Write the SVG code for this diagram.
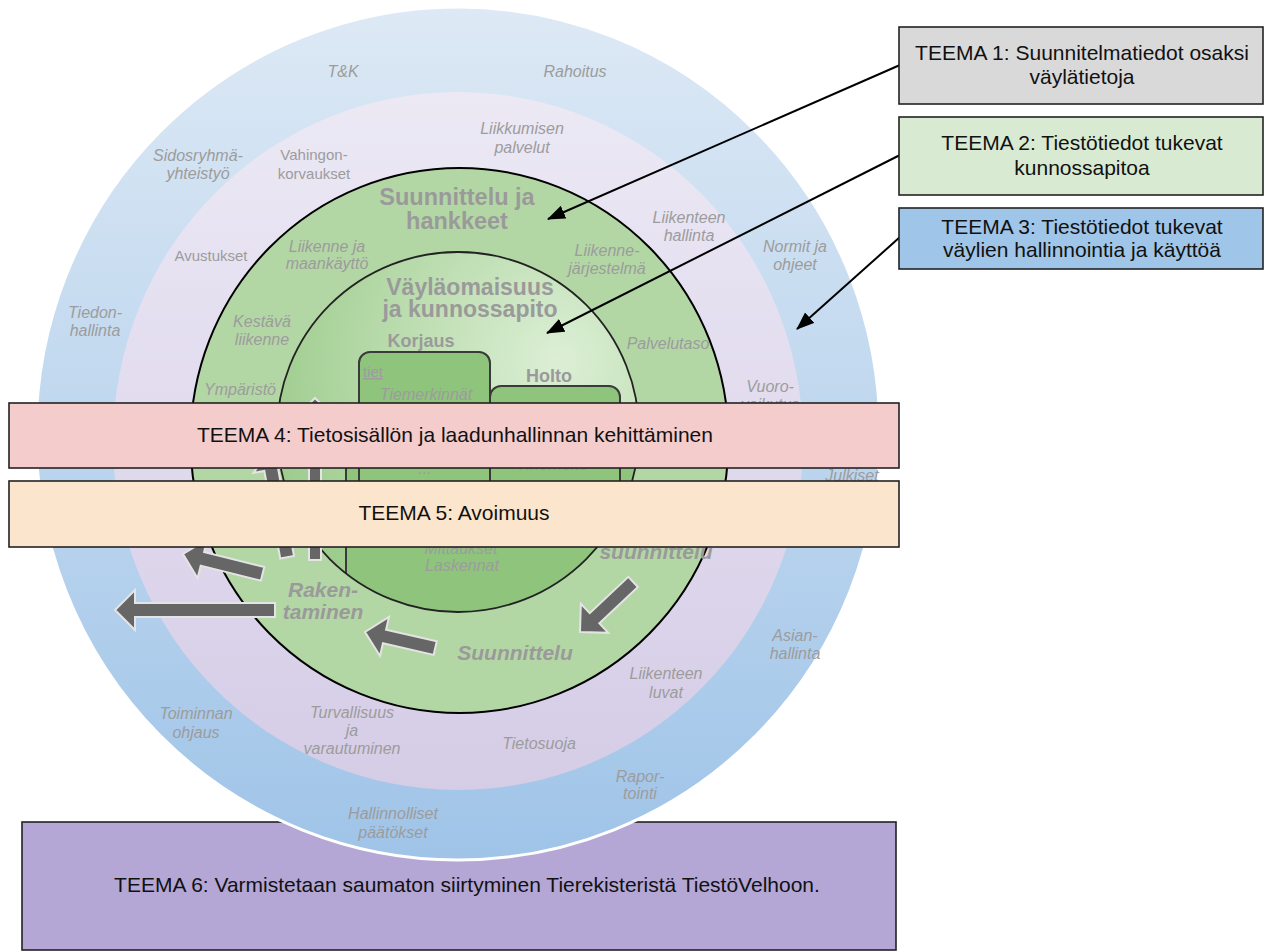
<svg xmlns="http://www.w3.org/2000/svg" width="1266" height="952" viewBox="0 0 1266 952">
  <defs>
    <linearGradient id="gBlue" x1="0" y1="0" x2="0" y2="1">
      <stop offset="0" stop-color="#dde9f5"/>
      <stop offset="1" stop-color="#9fc4e8"/>
    </linearGradient>
    <linearGradient id="gLav" x1="0" y1="0" x2="0" y2="1">
      <stop offset="0" stop-color="#ece9f5"/>
      <stop offset="1" stop-color="#d5cce6"/>
    </linearGradient>
    <radialGradient id="gInner" cx="0.78" cy="0.3" r="0.85">
      <stop offset="0" stop-color="#dcefd5"/>
      <stop offset="1" stop-color="#9ccb8b"/>
    </radialGradient>
    <clipPath id="innerClip">
      <ellipse cx="458" cy="432" rx="181" ry="180"/>
    </clipPath>
    <marker id="ah" markerUnits="userSpaceOnUse" markerWidth="18" markerHeight="14" refX="17" refY="7" orient="auto">
      <path d="M0,0 L18,7 L0,14 Z" fill="#000"/>
    </marker>
    <!-- left-pointing block arrow, tip at origin; shaft length set per use -->
    <path id="blk160" d="M0,0 L20,-20 L20,-7 L160,-7 L160,7 L20,7 L20,20 Z"/>
    <path id="blk82" d="M0,0 L20,-20 L20,-7 L82,-7 L82,7 L20,7 L20,20 Z"/>
    <path id="blk72" d="M0,0 L20,-20 L20,-7 L72,-7 L72,7 L20,7 L20,20 Z"/>
    <path id="blk73" d="M0,0 L20,-20 L20,-7 L73,-7 L73,7 L20,7 L20,20 Z"/>
    <path id="blk162" d="M0,0 L16,-16 L16,-6 L162,-6 L162,6 L16,6 L16,16 Z"/>
    <path id="blk107" d="M0,0 L18,-18 L18,-7 L107,-7 L107,7 L18,7 L18,18 Z"/>
  </defs>
  <style>
    .box { stroke: #222; stroke-width: 1.6; }
    .tt { font-family: "Liberation Sans", Arial, sans-serif; font-size: 21px; fill: #111; text-anchor: middle; }
    .lbl { font-family: "Liberation Sans", Arial, sans-serif; font-size: 16px; font-style: italic; fill: #9c9c9c; text-anchor: middle; }
    .reg { font-family: "Liberation Sans", Arial, sans-serif; font-size: 15px; fill: #9c9c9c; text-anchor: middle; }
    .bold { font-family: "Liberation Sans", Arial, sans-serif; font-weight: bold; fill: #9a9a9a; text-anchor: middle; }
    .bi { font-family: "Liberation Sans", Arial, sans-serif; font-weight: bold; font-style: italic; font-size: 21px; fill: #9a9a9a; text-anchor: middle; }
    .garrow { fill: #666; stroke: #e4e4e4; stroke-width: 2; }
    .conn { stroke: #000; stroke-width: 2; fill: none; }
    .sub { fill: #8fc47d; stroke: #3a3a3a; stroke-width: 2; }
  </style>

  <!-- theme 6 sits behind the rings -->
  <g id="teema6">
    <rect class="box" x="22" y="822" width="874" height="128" fill="#b4a7d6"/>
    <text class="tt" x="467" y="892" font-size="21.3">TEEMA 6: Varmistetaan saumaton siirtyminen Tierekisteristä TiestöVelhoon.</text>
  </g>

  <!-- concentric rings -->
  <g id="rings">
    <ellipse cx="458" cy="433.5" rx="422" ry="426.5" fill="url(#gBlue)" stroke="#fff" stroke-width="3"/>
    <ellipse cx="458" cy="441" rx="345" ry="349" fill="url(#gLav)"/>
    <ellipse cx="459.5" cy="440.5" rx="269" ry="272.5" fill="#b3d6a5" stroke="#000" stroke-width="2"/>
    <ellipse cx="458" cy="432" rx="181" ry="180" fill="url(#gInner)"/>
  </g>

  <!-- maintenance sub-areas inside the core -->
  <g id="subareas">
    <path class="sub" d="M346,470 Q346,458 358,458 L640,458 L640,640 L346,640 Z" clip-path="url(#innerClip)"/>
    <rect class="sub" x="359" y="352" width="131" height="188" rx="11"/>
    <rect class="sub" x="490" y="386" width="130" height="154" rx="11"/>
    <ellipse cx="458" cy="432" rx="181" ry="180" fill="none" stroke="#222" stroke-width="1.8"/>
  </g>

  <!-- ring labels -->
  <g id="labels">
    <text class="lbl" x="343" y="77">T&amp;K</text>
    <text class="lbl" x="575" y="77">Rahoitus</text>
    <text class="lbl" x="198" y="161">Sidosryhmä-</text>
    <text class="lbl" x="198" y="179">yhteistyö</text>
    <text class="reg" x="314" y="160">Vahingon-</text>
    <text class="reg" x="314" y="179">korvaukset</text>
    <text class="lbl" x="522" y="134">Liikkumisen</text>
    <text class="lbl" x="522" y="153">palvelut</text>
    <text class="reg" x="211" y="261">Avustukset</text>
    <text class="lbl" x="327" y="252">Liikenne ja</text>
    <text class="lbl" x="327" y="269">maankäyttö</text>
    <text class="lbl" x="689" y="223">Liikenteen</text>
    <text class="lbl" x="689" y="241">hallinta</text>
    <text class="lbl" x="795" y="252">Normit ja</text>
    <text class="lbl" x="795" y="270">ohjeet</text>
    <text class="lbl" x="607" y="256">Liikenne-</text>
    <text class="lbl" x="607" y="274">järjestelmä</text>
    <text class="lbl" x="95" y="318">Tiedon-</text>
    <text class="lbl" x="95" y="336">hallinta</text>
    <text class="lbl" x="262" y="327">Kestävä</text>
    <text class="lbl" x="262" y="345">liikenne</text>
    <text class="lbl" x="668" y="349">Palvelutaso</text>
    <text class="lbl" x="240" y="395">Ympäristö</text>
    <text class="lbl" x="770" y="392">Vuoro-</text>
    <text class="lbl" x="770" y="410">vaikutus</text>
    <text class="lbl" x="852" y="481">Julkiset</text>
    <text class="lbl" x="196" y="719">Toiminnan</text>
    <text class="lbl" x="196" y="738">ohjaus</text>
    <text class="lbl" x="352" y="718">Turvallisuus</text>
    <text class="lbl" x="352" y="736">ja</text>
    <text class="lbl" x="352" y="754">varautuminen</text>
    <text class="lbl" x="393" y="819">Hallinnolliset</text>
    <text class="lbl" x="393" y="838">päätökset</text>
    <text class="lbl" x="539" y="749">Tietosuoja</text>
    <text class="lbl" x="666" y="679">Liikenteen</text>
    <text class="lbl" x="666" y="698">luvat</text>
    <text class="lbl" x="795" y="641">Asian-</text>
    <text class="lbl" x="795" y="659">hallinta</text>
    <text class="lbl" x="640" y="782">Rapor-</text>
    <text class="lbl" x="640" y="799">tointi</text>

    <text class="bold" x="457" y="205" font-size="23.5">Suunnittelu ja</text>
    <text class="bold" x="457" y="229" font-size="23.5">hankkeet</text>
    <text class="bold" x="470" y="295" font-size="23">Väyläomaisuus</text>
    <text class="bold" x="470" y="317" font-size="23">ja kunnossapito</text>
    <text class="bold" x="421" y="347" font-size="18">Korjaus</text>
    <text class="bold" x="549" y="382" font-size="18">Holto</text>
    <text class="bi" x="323" y="597">Raken-</text>
    <text class="bi" x="323" y="619">taminen</text>
    <text class="bi" x="515" y="660">Suunnittelu</text>
    <text class="bi" x="656" y="559">suunnittelu</text>

    <text class="reg" x="373" y="377" text-anchor="start" text-decoration="underline">tiet</text>
    <text class="lbl" x="426" y="400">Tiemerkinnät</text>
    <text class="lbl" x="425" y="474">...</text>
    <text class="lbl" x="552" y="470">Viherhoito</text>
    <text class="lbl" x="461" y="554">Mittaukset</text>
    <text class="lbl" x="462" y="571">Laskennat</text>
  </g>

  <!-- grey process arrows -->
  <g id="flow-arrows">
    <use href="#blk162" class="garrow" transform="translate(315,398) rotate(90)"/>
    <use href="#blk107" class="garrow" transform="translate(268,452) rotate(79.7)"/>
    <use href="#blk160" class="garrow" transform="translate(115,610)"/>
    <use href="#blk82" class="garrow" transform="translate(183,554) rotate(14)"/>
    <use href="#blk72" class="garrow" transform="translate(365,632) rotate(12.9)"/>
    <use href="#blk73" class="garrow" transform="translate(580,632) rotate(-43.3)"/>
  </g>

  <!-- connectors from theme boxes -->
  <g id="connectors">
    <line class="conn" x1="900" y1="65" x2="548" y2="219" marker-end="url(#ah)"/>
    <line class="conn" x1="900" y1="155" x2="547" y2="333" marker-end="url(#ah)"/>
    <line class="conn" x1="900" y1="237" x2="797" y2="329" marker-end="url(#ah)"/>
  </g>

  <g id="teema1">
    <rect class="box" x="899" y="27" width="364" height="77" fill="#d9d9d9"/>
    <text class="tt" x="1082" y="60">TEEMA 1: Suunnitelmatiedot osaksi</text>
    <text class="tt" x="1082" y="84">väylätietoja</text>
  </g>
  <g id="teema2">
    <rect class="box" x="899" y="117" width="364" height="78" fill="#d9ead3"/>
    <text class="tt" x="1082" y="150">TEEMA 2: Tiestötiedot tukevat</text>
    <text class="tt" x="1082" y="175">kunnossapitoa</text>
  </g>
  <g id="teema3">
    <rect class="box" x="899" y="208" width="364" height="61" fill="#9fc5e8"/>
    <text class="tt" x="1082" y="234">TEEMA 3: Tiestötiedot tukevat</text>
    <text class="tt" x="1082" y="257">väylien hallinnointia ja käyttöä</text>
  </g>
  <g id="teema4">
    <rect class="box" x="9" y="403" width="890" height="65" fill="#f4cccc"/>
    <text class="tt" x="455" y="442">TEEMA 4: Tietosisällön ja laadunhallinnan kehittäminen</text>
  </g>
  <g id="teema5">
    <rect class="box" x="9" y="481" width="890" height="66" fill="#fce5cd"/>
    <text class="tt" x="454" y="520">TEEMA 5: Avoimuus</text>
  </g>
</svg>
